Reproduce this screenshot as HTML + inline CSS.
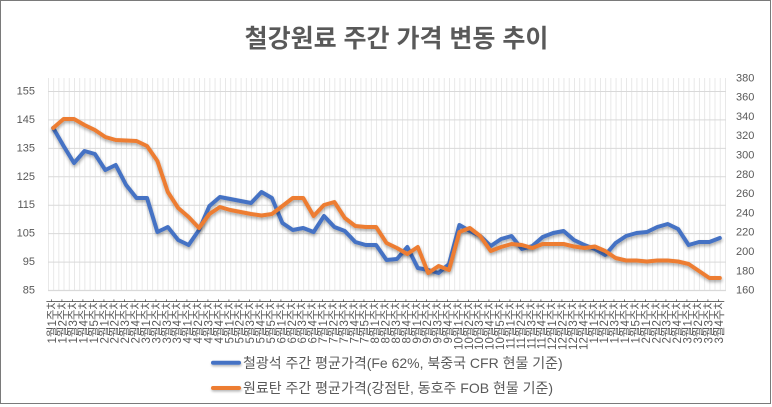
<!DOCTYPE html>
<html>
<head>
<meta charset="utf-8">
<style>
html,body{margin:0;padding:0;background:#fff;}
svg{display:block;}
text{font-family:"Liberation Sans","Noto Sans CJK KR",sans-serif;fill:#595959;}
.yl{font-size:11px;text-anchor:end;dominant-baseline:central;}
.yr{font-size:11px;text-anchor:start;dominant-baseline:central;}
.xl{font-size:11.5px;text-anchor:end;dominant-baseline:central;}
.lg{font-size:14px;}
</style>
</head>
<body>
<svg width="772" height="407" viewBox="0 0 772 407" xmlns="http://www.w3.org/2000/svg">
<defs>
<pattern id="vg" x="48" y="0" width="5.2078" height="407" patternUnits="userSpaceOnUse">
<rect x="0" y="0" width="0.8" height="407" fill="#e3e3e3"/>
</pattern>
<filter id="sh" x="-5%" y="-10%" width="110%" height="130%">
<feGaussianBlur in="SourceAlpha" stdDeviation="1.5"/>
<feOffset dx="0.5" dy="2"/>
<feComponentTransfer><feFuncA type="linear" slope="0.35"/></feComponentTransfer>
<feMerge><feMergeNode/><feMergeNode in="SourceGraphic"/></feMerge>
</filter>
<filter id="sh2" filterUnits="userSpaceOnUse" x="200" y="350" width="60" height="50">
<feGaussianBlur in="SourceAlpha" stdDeviation="1.2"/>
<feOffset dx="0.5" dy="1.5"/>
<feComponentTransfer><feFuncA type="linear" slope="0.3"/></feComponentTransfer>
<feMerge><feMergeNode/><feMergeNode in="SourceGraphic"/></feMerge>
</filter>
</defs>
<rect x="0" y="0" width="772" height="407" fill="#fff"/>
<rect x="0.5" y="0.5" width="770" height="403" fill="#fff" stroke="#7a7a7a" stroke-width="1"/>

<text x="396.5" y="47" font-size="25" font-weight="bold" text-anchor="middle">철강원료 주간 가격 변동 추이</text>

<!-- vertical gridlines -->
<rect x="48" y="78" width="678" height="212.5" fill="url(#vg)"/>
<!-- horizontal gridlines -->
<g stroke="#d9d9d9" stroke-width="1">
<line x1="48" x2="726" y1="91.5" y2="91.5"/>
<line x1="48" x2="726" y1="119.9" y2="119.9"/>
<line x1="48" x2="726" y1="148.4" y2="148.4"/>
<line x1="48" x2="726" y1="176.8" y2="176.8"/>
<line x1="48" x2="726" y1="205.2" y2="205.2"/>
<line x1="48" x2="726" y1="233.6" y2="233.6"/>
<line x1="48" x2="726" y1="262.1" y2="262.1"/>
<line x1="48" x2="726" y1="290.5" y2="290.5" stroke-width="1.3"/>
</g>

<!-- left axis -->
<text class="yl" x="35" y="91.5">155</text>
<text class="yl" x="35" y="119.9">145</text>
<text class="yl" x="35" y="148.4">135</text>
<text class="yl" x="35" y="176.8">125</text>
<text class="yl" x="35" y="205.2">115</text>
<text class="yl" x="35" y="233.6">105</text>
<text class="yl" x="35" y="262.1">95</text>
<text class="yl" x="35" y="290.5">85</text>

<!-- right axis -->
<text class="yr" x="736" y="78.3">380</text>
<text class="yr" x="736" y="97.6">360</text>
<text class="yr" x="736" y="116.9">340</text>
<text class="yr" x="736" y="136.2">320</text>
<text class="yr" x="736" y="155.5">300</text>
<text class="yr" x="736" y="174.8">280</text>
<text class="yr" x="736" y="194.1">260</text>
<text class="yr" x="736" y="213.4">240</text>
<text class="yr" x="736" y="232.7">220</text>
<text class="yr" x="736" y="252.0">200</text>
<text class="yr" x="736" y="271.3">180</text>
<text class="yr" x="736" y="290.6">160</text>

<!-- series -->
<polyline filter="url(#sh)" fill="none" stroke="#4472C4" stroke-width="4" stroke-linejoin="round" stroke-linecap="round" points="53.2,128 63.6,146 74.0,163 84.5,151 94.9,154 105.3,170 115.7,165 126.1,185 136.5,198 147.0,198 157.4,232 167.8,227 178.2,240 188.6,245 199.0,230 209.4,206 219.9,197 230.3,199 240.7,201 251.1,203 261.5,192 271.9,198 282.4,223 292.8,230 303.2,228 313.6,232 324.0,216 334.4,227 344.8,231 355.3,242 365.7,245 376.1,245 386.5,260 396.9,259 407.3,247 417.8,268 428.2,270 438.6,273 449.0,264 459.4,225 469.8,231 480.2,236 490.7,246 501.1,239 511.5,236 521.9,249 532.3,246 542.7,237 553.2,233 563.6,231 574.0,240 584.4,245 594.8,249 605.2,255 615.6,243 626.1,236 636.5,233 646.9,232 657.3,227 667.7,224 678.1,229 688.6,245 699.0,242 709.4,242 719.8,238"/>
<polyline filter="url(#sh)" fill="none" stroke="#ED7D31" stroke-width="4" stroke-linejoin="round" stroke-linecap="round" points="53.2,128 63.6,119 74.0,119 84.5,125 94.9,130 105.3,137 115.7,140 126.1,140.5 136.5,141 147.0,146 157.4,161 167.8,192 178.2,208 188.6,217 199.0,228 209.4,214 219.9,207 230.3,210 240.7,212 251.1,214 261.5,215.5 271.9,214 282.4,206 292.8,198 303.2,198 313.6,216 324.0,205 334.4,202 344.8,218 355.3,226 365.7,227 376.1,227 386.5,243 396.9,248 407.3,254 417.8,247 428.2,273 438.6,266 449.0,270 459.4,232 469.8,228 480.2,236 490.7,251 501.1,247 511.5,244 521.9,245 532.3,248 542.7,244 553.2,244 563.6,244 574.0,246.5 584.4,248 594.8,246.5 605.2,251 615.6,258 626.1,260.5 636.5,260.5 646.9,261.5 657.3,260.5 667.7,260.5 678.1,261.5 688.6,264 699.0,271 709.4,278 719.8,278"/>

<!-- x labels -->
<g>
<text class="xl" transform="translate(53.2,299) rotate(-90)">1월1주차</text>
<text class="xl" transform="translate(63.6,299) rotate(-90)">1월2주차</text>
<text class="xl" transform="translate(74.0,299) rotate(-90)">1월3주차</text>
<text class="xl" transform="translate(84.5,299) rotate(-90)">1월4주차</text>
<text class="xl" transform="translate(94.9,299) rotate(-90)">1월5주차</text>
<text class="xl" transform="translate(105.3,299) rotate(-90)">2월1주차</text>
<text class="xl" transform="translate(115.7,299) rotate(-90)">2월2주차</text>
<text class="xl" transform="translate(126.1,299) rotate(-90)">2월3주차</text>
<text class="xl" transform="translate(136.5,299) rotate(-90)">2월4주차</text>
<text class="xl" transform="translate(147.0,299) rotate(-90)">3월1주차</text>
<text class="xl" transform="translate(157.4,299) rotate(-90)">3월2주차</text>
<text class="xl" transform="translate(167.8,299) rotate(-90)">3월3주차</text>
<text class="xl" transform="translate(178.2,299) rotate(-90)">3월4주차</text>
<text class="xl" transform="translate(188.6,299) rotate(-90)">4월1주차</text>
<text class="xl" transform="translate(199.0,299) rotate(-90)">4월2주차</text>
<text class="xl" transform="translate(209.4,299) rotate(-90)">4월3주차</text>
<text class="xl" transform="translate(219.9,299) rotate(-90)">4월4주차</text>
<text class="xl" transform="translate(230.3,299) rotate(-90)">5월1주차</text>
<text class="xl" transform="translate(240.7,299) rotate(-90)">5월2주차</text>
<text class="xl" transform="translate(251.1,299) rotate(-90)">5월3주차</text>
<text class="xl" transform="translate(261.5,299) rotate(-90)">5월4주차</text>
<text class="xl" transform="translate(271.9,299) rotate(-90)">5월5주차</text>
<text class="xl" transform="translate(282.4,299) rotate(-90)">6월1주차</text>
<text class="xl" transform="translate(292.8,299) rotate(-90)">6월2주차</text>
<text class="xl" transform="translate(303.2,299) rotate(-90)">6월3주차</text>
<text class="xl" transform="translate(313.6,299) rotate(-90)">6월4주차</text>
<text class="xl" transform="translate(324.0,299) rotate(-90)">7월1주차</text>
<text class="xl" transform="translate(334.4,299) rotate(-90)">7월2주차</text>
<text class="xl" transform="translate(344.8,299) rotate(-90)">7월3주차</text>
<text class="xl" transform="translate(355.3,299) rotate(-90)">7월4주차</text>
<text class="xl" transform="translate(365.7,299) rotate(-90)">7월5주차</text>
<text class="xl" transform="translate(376.1,299) rotate(-90)">8월1주차</text>
<text class="xl" transform="translate(386.5,299) rotate(-90)">8월2주차</text>
<text class="xl" transform="translate(396.9,299) rotate(-90)">8월3주차</text>
<text class="xl" transform="translate(407.3,299) rotate(-90)">8월4주차</text>
<text class="xl" transform="translate(417.8,299) rotate(-90)">9월1주차</text>
<text class="xl" transform="translate(428.2,299) rotate(-90)">9월2주차</text>
<text class="xl" transform="translate(438.6,299) rotate(-90)">9월3주차</text>
<text class="xl" transform="translate(449.0,299) rotate(-90)">9월4주차</text>
<text class="xl" transform="translate(459.4,299) rotate(-90)">10월1주차</text>
<text class="xl" transform="translate(469.8,299) rotate(-90)">10월2주차</text>
<text class="xl" transform="translate(480.2,299) rotate(-90)">10월3주차</text>
<text class="xl" transform="translate(490.7,299) rotate(-90)">10월4주차</text>
<text class="xl" transform="translate(501.1,299) rotate(-90)">10월5주차</text>
<text class="xl" transform="translate(511.5,299) rotate(-90)">11월1주차</text>
<text class="xl" transform="translate(521.9,299) rotate(-90)">11월2주차</text>
<text class="xl" transform="translate(532.3,299) rotate(-90)">11월3주차</text>
<text class="xl" transform="translate(542.7,299) rotate(-90)">11월4주차</text>
<text class="xl" transform="translate(553.2,299) rotate(-90)">12월1주차</text>
<text class="xl" transform="translate(563.6,299) rotate(-90)">12월2주차</text>
<text class="xl" transform="translate(574.0,299) rotate(-90)">12월3주차</text>
<text class="xl" transform="translate(584.4,299) rotate(-90)">12월4주차</text>
<text class="xl" transform="translate(594.8,299) rotate(-90)">1월1주차</text>
<text class="xl" transform="translate(605.2,299) rotate(-90)">1월2주차</text>
<text class="xl" transform="translate(615.6,299) rotate(-90)">1월3주차</text>
<text class="xl" transform="translate(626.1,299) rotate(-90)">1월4주차</text>
<text class="xl" transform="translate(636.5,299) rotate(-90)">1월5주차</text>
<text class="xl" transform="translate(646.9,299) rotate(-90)">2월1주차</text>
<text class="xl" transform="translate(657.3,299) rotate(-90)">2월2주차</text>
<text class="xl" transform="translate(667.7,299) rotate(-90)">2월3주차</text>
<text class="xl" transform="translate(678.1,299) rotate(-90)">2월4주차</text>
<text class="xl" transform="translate(688.6,299) rotate(-90)">3월1주차</text>
<text class="xl" transform="translate(699.0,299) rotate(-90)">3월2주차</text>
<text class="xl" transform="translate(709.4,299) rotate(-90)">3월3주차</text>
<text class="xl" transform="translate(719.8,299) rotate(-90)">3월4주차</text>
</g>

<!-- legend -->
<rect filter="url(#sh2)" x="211" y="360.7" width="30" height="4" rx="2" fill="#4472C4"/>
<text class="lg" x="243" y="367.8">철광석 주간 평균가격(Fe 62%, 북중국 CFR 현물 기준)</text>
<rect filter="url(#sh2)" x="211" y="386" width="30" height="4" rx="2" fill="#ED7D31"/>
<text class="lg" x="243" y="393.2">원료탄 주간 평균가격(강점탄, 동호주 FOB 현물 기준)</text>
</svg>
</body>
</html>
